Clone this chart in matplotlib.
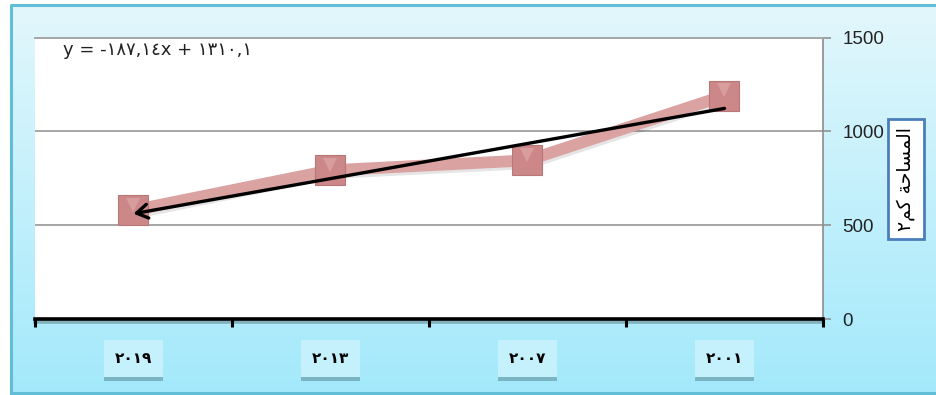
import numpy as np
import matplotlib
matplotlib.use("Agg")
import matplotlib.pyplot as plt
import matplotlib.patheffects as pe

# ---- data -------------------------------------------------------------
years = ["٢٠١٩", "٢٠١٣", "٢٠٠٧", "٢٠٠١"]          # left to right on the axis
area = [580, 793, 846, 1191]                        # km² per year (same order)
trend_slope = -187.14                               # linear trend, x = 1 for ٢٠٠١
trend_intercept = 1310.1
trend_label = "y = -١٨٧,١٤x + ١٣١٠,١"
y_ticks = [0, 500, 1000, 1500]
# "المساحة كم٢" written with Arabic presentation forms in visual order
y_title = "\u0662\uFEE2\uFEDB \uFE94\uFEA3\uFE8E\uFEB4\uFEE4\uFEDF\uFE8D"

W, H, DPI = 937, 395, 100
fig = plt.figure(figsize=(W / DPI, H / DPI), dpi=DPI)
fig.patch.set_facecolor("white")

# ---- gradient chart-area background with frame -------------------------
bg = fig.add_axes([0, 0, 1, 1], zorder=-5)
bg.set_xlim(0, W)
bg.set_ylim(H, 0)
bg.axis("off")
top_c = np.array([0xe2, 0xf7, 0xfc]) / 255
bot_c = np.array([0xa3, 0xe9, 0xfb]) / 255
t = np.linspace(0, 1, 256)[:, None, None]
grad = top_c * (1 - t) + bot_c * t
grad = np.repeat(grad, 2, axis=1)
bg.imshow(grad, extent=[11, W, 393, 5], aspect="auto", interpolation="bilinear")
bg.plot([11, 11, W], [393, 5, 5], color="#62bdd6", lw=2.2, solid_capstyle="butt")
bg.plot([11, W], [393, 393], color="#62bdd6", lw=2.2)

# ---- plot area ---------------------------------------------------------
x0, x1 = 35, 823
y_top, y_bot = 37.7, 319
ax = fig.add_axes([x0 / W, 1 - y_bot / H, (x1 - x0) / W, (y_bot - y_top) / H])
ax.set_facecolor("white")
ax.set_xlim(0, len(years))
ax.set_ylim(0, 1500)

pos = np.arange(len(years)) + 0.5

# gridlines
for v in y_ticks[1:]:
    ax.axhline(v, color="#a6a6a6", lw=1.4, zorder=1)

# data series: thick pink line with a soft shadow, square markers
ax.plot(pos, area, color="#dba2a2", lw=8.5, solid_capstyle="butt", zorder=3,
        path_effects=[pe.SimpleLineShadow(offset=(1, -2), alpha=0.10, shadow_color="black"),
                      pe.Normal()])
ax.plot(pos, area, linestyle="none", marker="s", markersize=22,
        markerfacecolor="#cc8888", markeredgecolor="#b97676", markeredgewidth=0.8,
        zorder=4)
# soft highlight on the upper bevel of each marker
ax.plot(pos, np.array(area) + 30, linestyle="none", marker="v", markersize=10,
        markerfacecolor="#e3b0b0", markeredgewidth=0, alpha=0.55, zorder=5)

# linear trend (x = 1 is the rightmost category)
xi = np.array([1, len(years)])
trend_y = trend_slope * xi + trend_intercept
trend_x = len(years) + 0.5 - xi
ax.annotate("", xy=(trend_x[1], trend_y[1]), xytext=(trend_x[0], trend_y[0]),
            arrowprops=dict(arrowstyle="->,head_length=0.8,head_width=0.5",
                            color="black", lw=2.4, shrinkA=0, shrinkB=0),
            zorder=6)

ax.text(0.035, 0.99, trend_label, transform=ax.transAxes, ha="left", va="top",
        fontsize=13, family="DejaVu Sans", color="#222222", zorder=7)

# spines
ax.spines["left"].set_visible(False)
ax.spines["top"].set_color("#a6a6a6")
ax.spines["top"].set_linewidth(1.4)
ax.spines["right"].set_color("#8c8c8c")
ax.spines["right"].set_linewidth(1.2)
ax.spines["bottom"].set_color("black")
ax.spines["bottom"].set_linewidth(2.6)
ax.spines["bottom"].set_path_effects(
    [pe.SimpleLineShadow(offset=(0, -2.5), alpha=0.25, shadow_color="black"), pe.Normal()])

# y axis on the right
ax.yaxis.tick_right()
ax.set_yticks(y_ticks)
ax.set_yticklabels([str(v) for v in y_ticks])
ax.tick_params(axis="y", direction="out", length=6, width=1.1, color="#8c8c8c",
               labelsize=13.5, pad=8, labelcolor="#222222")
for lbl in ax.get_yticklabels():
    lbl.set_family(["Liberation Sans Narrow", "Liberation Sans"])

# x axis: boundary ticks, labels centred in boxed tags
ax.set_xticks(np.arange(len(years) + 1))
ax.set_xticklabels([])
ax.tick_params(axis="x", which="major", direction="out", length=6, width=2.2, color="black")
ax.set_xticks(pos, minor=True)
ax.set_xticklabels(years, minor=True)
ax.tick_params(axis="x", which="minor", length=0, pad=23, labelsize=11)
for lbl in ax.get_xticklabels(minor=True):
    lbl.set_fontweight("bold")
    lbl.set_family("DejaVu Sans")
    lbl.set_bbox(dict(boxstyle="square,pad=0.7", facecolor="#c4f1fc",
                      edgecolor="none"))
    lbl.get_bbox_patch().set_path_effects(
        [pe.SimplePatchShadow(offset=(0, -3), alpha=0.35, shadow_rgbFace="#2a5560"),
         pe.Normal()])

# y-axis title in a framed box
fig.text(906 / W, 1 - 179 / H, y_title, rotation=90, ha="center", va="center",
         fontsize=13.5, family="DejaVu Sans", color="black",
         bbox=dict(boxstyle="square,pad=0.45", facecolor="white",
                   edgecolor="#4a7ebb", linewidth=2))

fig.savefig("out.png", dpi=DPI)
